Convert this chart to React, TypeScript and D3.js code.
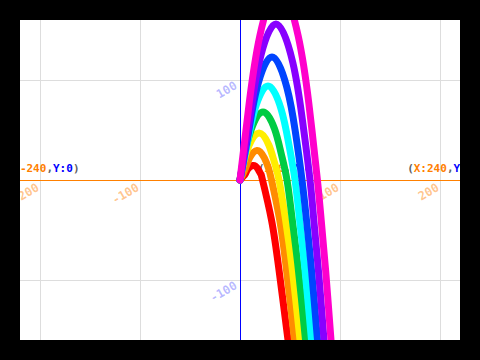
import React from "react";
import * as d3 from "d3";

const X_TICKS = [-200, -100, 100, 200];
const Y_TICKS = [100, -100];
const SERIES_COLORS = ["#ff0000", "#ff8c00", "#ffee00", "#00cc44", "#00ffff", "#0044ff", "#8800ff", "#ff00cc"];

const red: [number, number][] = [[0, 0], [5.2, 5.8], [7.5, 10.5], [13, 14.5], [18, 11], [20.8, 5.8], [22.5, 0], [31.5, -40], [39, -90], [48, -160], [50, -180]];
const orange: [number, number][] = [[0, 0], [5.5, 11.8], [9.6, 22], [17, 29.5], [24.4, 22], [28.5, 11.8], [31.5, 0], [39.7, -40], [46.5, -90], [54.5, -160], [56.4, -180]];
const yellow: [number, number][] = [[0, 0], [3.9, 18.8], [9.2, 35], [19, 47], [28.8, 35], [34.1, 18.8], [39, 0], [45.6, -40], [52.4, -90], [60, -160], [62, -180]];
const green: [number, number][] = [[0, 0], [5, 27.2], [11.4, 51], [23, 68], [34.6, 51], [41, 27.2], [47, 0], [52.3, -40], [58.4, -90], [65.5, -160], [67.3, -180]];
const cyan: [number, number][] = [[0, 0], [7.5, 37.6], [14.8, 70.5], [28, 94], [41.2, 70.5], [48.5, 37.6], [55, 0], [59.6, -40], [65, -90], [71.5, -160], [73.2, -180]];
const blue: [number, number][] = [[0, 0], [8.8, 49.2], [17, 92], [32, 123], [47, 92], [55.2, 49.2], [62, 0], [66.5, -40], [71.5, -90], [77.5, -160], [79.1, -180]];
const violet: [number, number][] = [[0, 0], [9.9, 62.4], [19.1, 117], [36, 156], [52.9, 117], [62.1, 62.4], [70, 0], [73.8, -40], [78.4, -90], [84, -160], [85.5, -180]];
const magenta: [number, number][] = [[0, 0], [9.2, 76.8], [19.8, 144], [39, 192], [58.2, 144], [68.8, 76.8], [77.4, 0], [81.2, -40], [85.6, -90], [91, -160], [92.5, -180]];
const SERIES = [red, orange, yellow, green, cyan, blue, violet, magenta];

const W = 480, H = 360;
const PL = 20, PR = 460, PT = 20, PB = 340;

export default function App() {
  const x = d3.scaleLinear().domain([-220, 220]).range([PL, PR]);
  const y = d3.scaleLinear().domain([160, -160]).range([PT, PB]);
  const line = d3
    .line<[number, number]>()
    .x((d) => x(d[0]))
    .y((d) => y(d[1]))
    .curve(d3.curveNatural);
  const font = "'DejaVu Sans Mono', monospace";
  const ORANGE = "#ff8000";
  const BLUE = "#0000ff";
  const GRAY = "#606060";

  const coordLabel = (xv: number, yv: number) => [
    <tspan key="a" fill={GRAY}>(</tspan>,
    <tspan key="b" fill={ORANGE}>X:{xv}</tspan>,
    <tspan key="c" fill={GRAY}>,</tspan>,
    <tspan key="d" fill={BLUE}>Y:{yv}</tspan>,
    <tspan key="e" fill={GRAY}>)</tspan>,
  ];

  return (
    <svg width={W} height={H} style={{ position: "absolute", left: 0, top: 0, display: "block" }}>
      <defs>
        <clipPath id="plot">
          <rect x={PL} y={PT} width={PR - PL} height={PB - PT} />
        </clipPath>
      </defs>
      <rect x={0} y={0} width={W} height={H} fill="#000" />
      <rect x={PL} y={PT} width={PR - PL} height={PB - PT} fill="#fff" />
      <g clipPath="url(#plot)">
        {X_TICKS.map((t) => (
          <line key={"gx" + t} x1={x(t)} x2={x(t)} y1={PT} y2={PB} stroke="#dddddd" strokeWidth={1} shapeRendering="crispEdges" />
        ))}
        {Y_TICKS.map((t) => (
          <line key={"gy" + t} x1={PL} x2={PR} y1={y(t)} y2={y(t)} stroke="#dddddd" strokeWidth={1} shapeRendering="crispEdges" />
        ))}
        <line x1={PL} x2={PR} y1={y(0)} y2={y(0)} stroke={ORANGE} strokeWidth={1} shapeRendering="crispEdges" />
        <line x1={x(0)} x2={x(0)} y1={PT} y2={PB} stroke={BLUE} strokeWidth={1} shapeRendering="crispEdges" />

        {X_TICKS.map((t) => (
          <text
            key={"tx" + t}
            transform={`translate(${x(t)},${y(0) + 10}) rotate(-30)`}
            textAnchor="end"
            fontFamily={font}
            fontWeight="bold"
            fontSize={12}
            fill={ORANGE}
            fillOpacity={0.45}
          >
            {t}
          </text>
        ))}
        {Y_TICKS.map((t) => (
          <text
            key={"ty" + t}
            transform={`translate(${x(0) - 2},${y(t) + 8}) rotate(-30)`}
            textAnchor="end"
            fontFamily={font}
            fontWeight="bold"
            fontSize={12}
            fill={BLUE}
            fillOpacity={0.28}
          >
            {t}
          </text>
        ))}

        <text x={x(-240)} y={y(0) - 8} fontFamily={font} fontWeight="bold" fontSize={11} textAnchor="start">
          {coordLabel(-240, 0)}
        </text>
        <text x={x(240)} y={y(0) - 8} fontFamily={font} fontWeight="bold" fontSize={11} textAnchor="end">
          {coordLabel(240, 0)}
        </text>
        <text x={x(18)} y={y(0) - 8} fontFamily={font} fontWeight="bold" fontSize={11} textAnchor="start">
          {coordLabel(0, 0)}
        </text>

        {SERIES.map((s, i) => (
          <path
            key={"s" + i}
            d={line(s) || ""}
            fill="none"
            stroke={SERIES_COLORS[i]}
            strokeWidth={7}
            strokeLinecap="round"
            strokeLinejoin="round"
          />
        ))}
      </g>
    </svg>
  );
}
